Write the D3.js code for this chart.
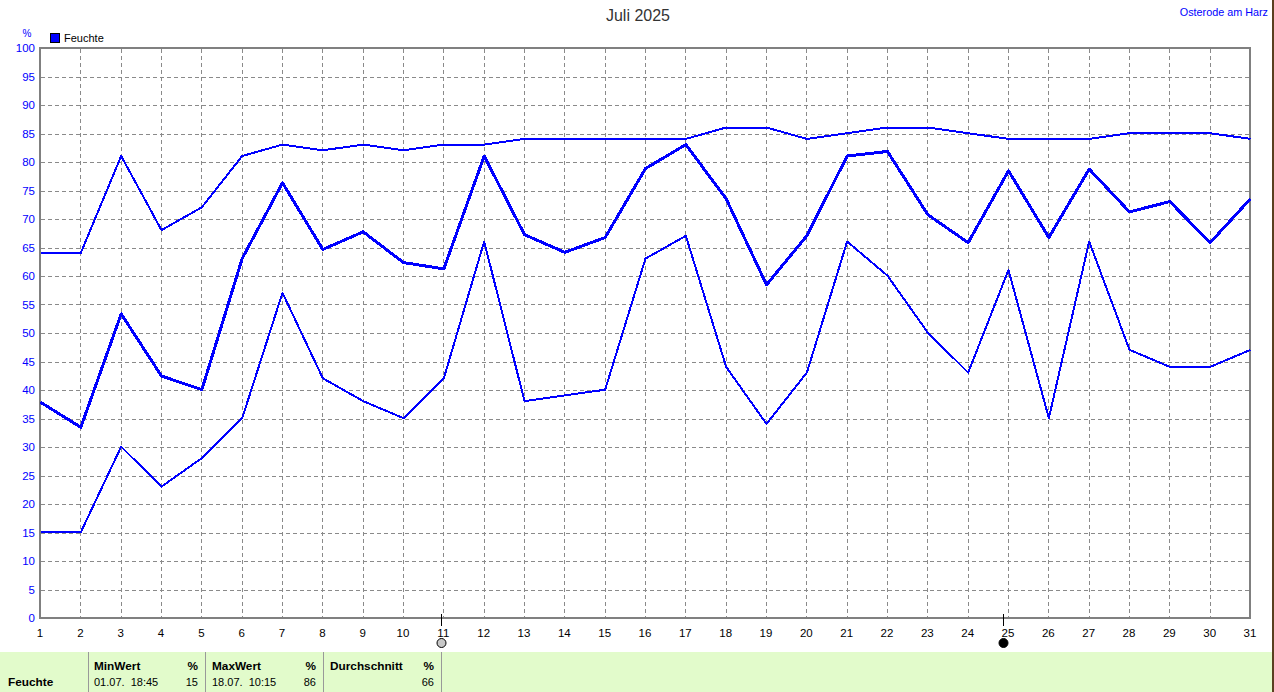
<!DOCTYPE html>
<html><head><meta charset="utf-8">
<script src="https://cdn.jsdelivr.net/npm/d3@7"></script>
<style>html,body{margin:0;padding:0;background:#fff;overflow:hidden}svg{display:block}text{font-family:"Liberation Sans",Arial,sans-serif;font-size:11px}</style>
</head><body><svg id="c" width="1274" height="692"></svg>
<script>
const days=d3.range(1,32);
const yTicks=d3.range(0,101,5);
const seriesMax=[64,64,81,68,72,81,83,82,83,82,83,83,84,84,84,84,84,86,86,84,85,86,86,85,84,84,84,85,85,85,84];
const seriesAvg=[37.8,33.4,53.3,42.4,40,63,76.3,64.6,67.7,62.3,61.2,81,67.2,64.1,66.7,78.8,83,73.5,58.4,67,81,81.8,70.7,65.8,78.4,66.7,78.7,71.2,73,65.8,73.5];
const seriesMin=[15,15,30,23,28,35,57,42,38,35,42,66,38,39,40,63,67,44,34,43,66,60,50,43,61,35,66,47,44,44,47];
const moonDays=[10.95,24.88];
const svg=d3.select("#c");
const x=d3.scaleLinear().domain([1,31]).range([40,1250]);
const y=d3.scaleLinear().domain([0,100]).range([618,48]);
const fx=d=>Math.round(x(d))+.5, fy=d=>Math.round(y(d))+.5;
const grid=svg.append("g").attr("stroke","#8a8a8a").attr("stroke-dasharray","4 3").attr("shape-rendering","crispEdges");
grid.selectAll(".v").data(days.slice(1,-1)).join("line").attr("x1",fx).attr("x2",fx).attr("y1",49).attr("y2",617);
grid.selectAll(".h").data(yTicks.slice(1,-1)).join("line").attr("x1",41).attr("x2",1249).attr("y1",fy).attr("y2",fy);
svg.append("rect").attr("x",x(1)).attr("y",y(100)).attr("width",x(31)-x(1)).attr("height",y(0)-y(100)).attr("fill","none").attr("stroke","#808080").attr("stroke-width",2).attr("shape-rendering","crispEdges");
const line=d3.line().x((d,i)=>x(days[i])+.5).y(d=>y(d)-.3);
[[seriesMax,2],[seriesAvg,3],[seriesMin,2]].forEach(([s,w])=>{
 svg.append("path").attr("d",line(s)).attr("fill","none").attr("stroke","#0000ff").attr("stroke-width",w).attr("stroke-linejoin","round").attr("shape-rendering","crispEdges");
});
svg.selectAll(".yl").data(yTicks).join("text").attr("x",35).attr("y",d=>y(d)+4).attr("text-anchor","end").attr("fill","#0000ff").style("font-size","11.5px").text(d=>d);
svg.selectAll(".xl").data(days).join("text").attr("x",d=>x(d)).attr("y",637).attr("text-anchor","middle").attr("fill","#000").style("font-size","11.5px").text(d=>d);
svg.append("text").attr("x",27).attr("y",37).attr("text-anchor","middle").attr("fill","#0000ff").style("font-size","10px").text("%");
svg.append("rect").attr("x",50.5).attr("y",33.5).attr("width",9).attr("height",9).attr("fill","#0000ff").attr("stroke","#000").attr("shape-rendering","crispEdges");
svg.append("text").attr("x",64).attr("y",42).attr("fill","#000").text("Feuchte");
svg.append("text").attr("x",638).attr("y",21).attr("text-anchor","middle").attr("fill","#333").style("font-size","16px").text("Juli 2025");
svg.append("text").attr("x",1268).attr("y",16).attr("text-anchor","end").attr("fill","#0000ff").style("font-size","10.8px").text("Osterode am Harz");
moonDays.forEach((d,i)=>{
 const mx=Math.round(x(d))+.5;
 svg.append("line").attr("x1",mx).attr("x2",mx).attr("y1",614).attr("y2",626).attr("stroke","#000").attr("shape-rendering","crispEdges");
 svg.append("circle").attr("cx",mx).attr("cy",643).attr("r",4.5).attr("fill",i?"#000":"#c8c8c8").attr("stroke","#000");
});
svg.append("rect").attr("x",0).attr("y",652).attr("width",1272).attr("height",40).attr("fill","#e2fbcb");
svg.selectAll(".sep").data([88,205,323,441]).join("line").attr("x1",d=>d+.5).attr("x2",d=>d+.5).attr("y1",652).attr("y2",692).attr("stroke","#999");
const bold=[["Feuchte",8,686,"start"],["MinWert",94,670,"start"],["%",198,670,"end"],["MaxWert",212,670,"start"],["%",316,670,"end"],["Durchschnitt",330,670,"start"],["%",434,670,"end"]];
const plain=[["01.07.  18:45",94,686,"start"],["15",198,686,"end"],["18.07.  10:15",212,686,"start"],["86",316,686,"end"],["66",434,686,"end"]];
bold.forEach(b=>svg.append("text").attr("x",b[1]).attr("y",b[2]).attr("text-anchor",b[3]).attr("fill","#000").style("font-weight","bold").style("font-size","11.8px").style("white-space","pre").text(b[0]));
plain.forEach(b=>svg.append("text").attr("x",b[1]).attr("y",b[2]).attr("text-anchor",b[3]).attr("fill","#000").style("white-space","pre").text(b[0]));
svg.append("rect").attr("x",1272).attr("y",0).attr("width",2).attr("height",692).attr("fill","#5a4020");
</script></body></html>
